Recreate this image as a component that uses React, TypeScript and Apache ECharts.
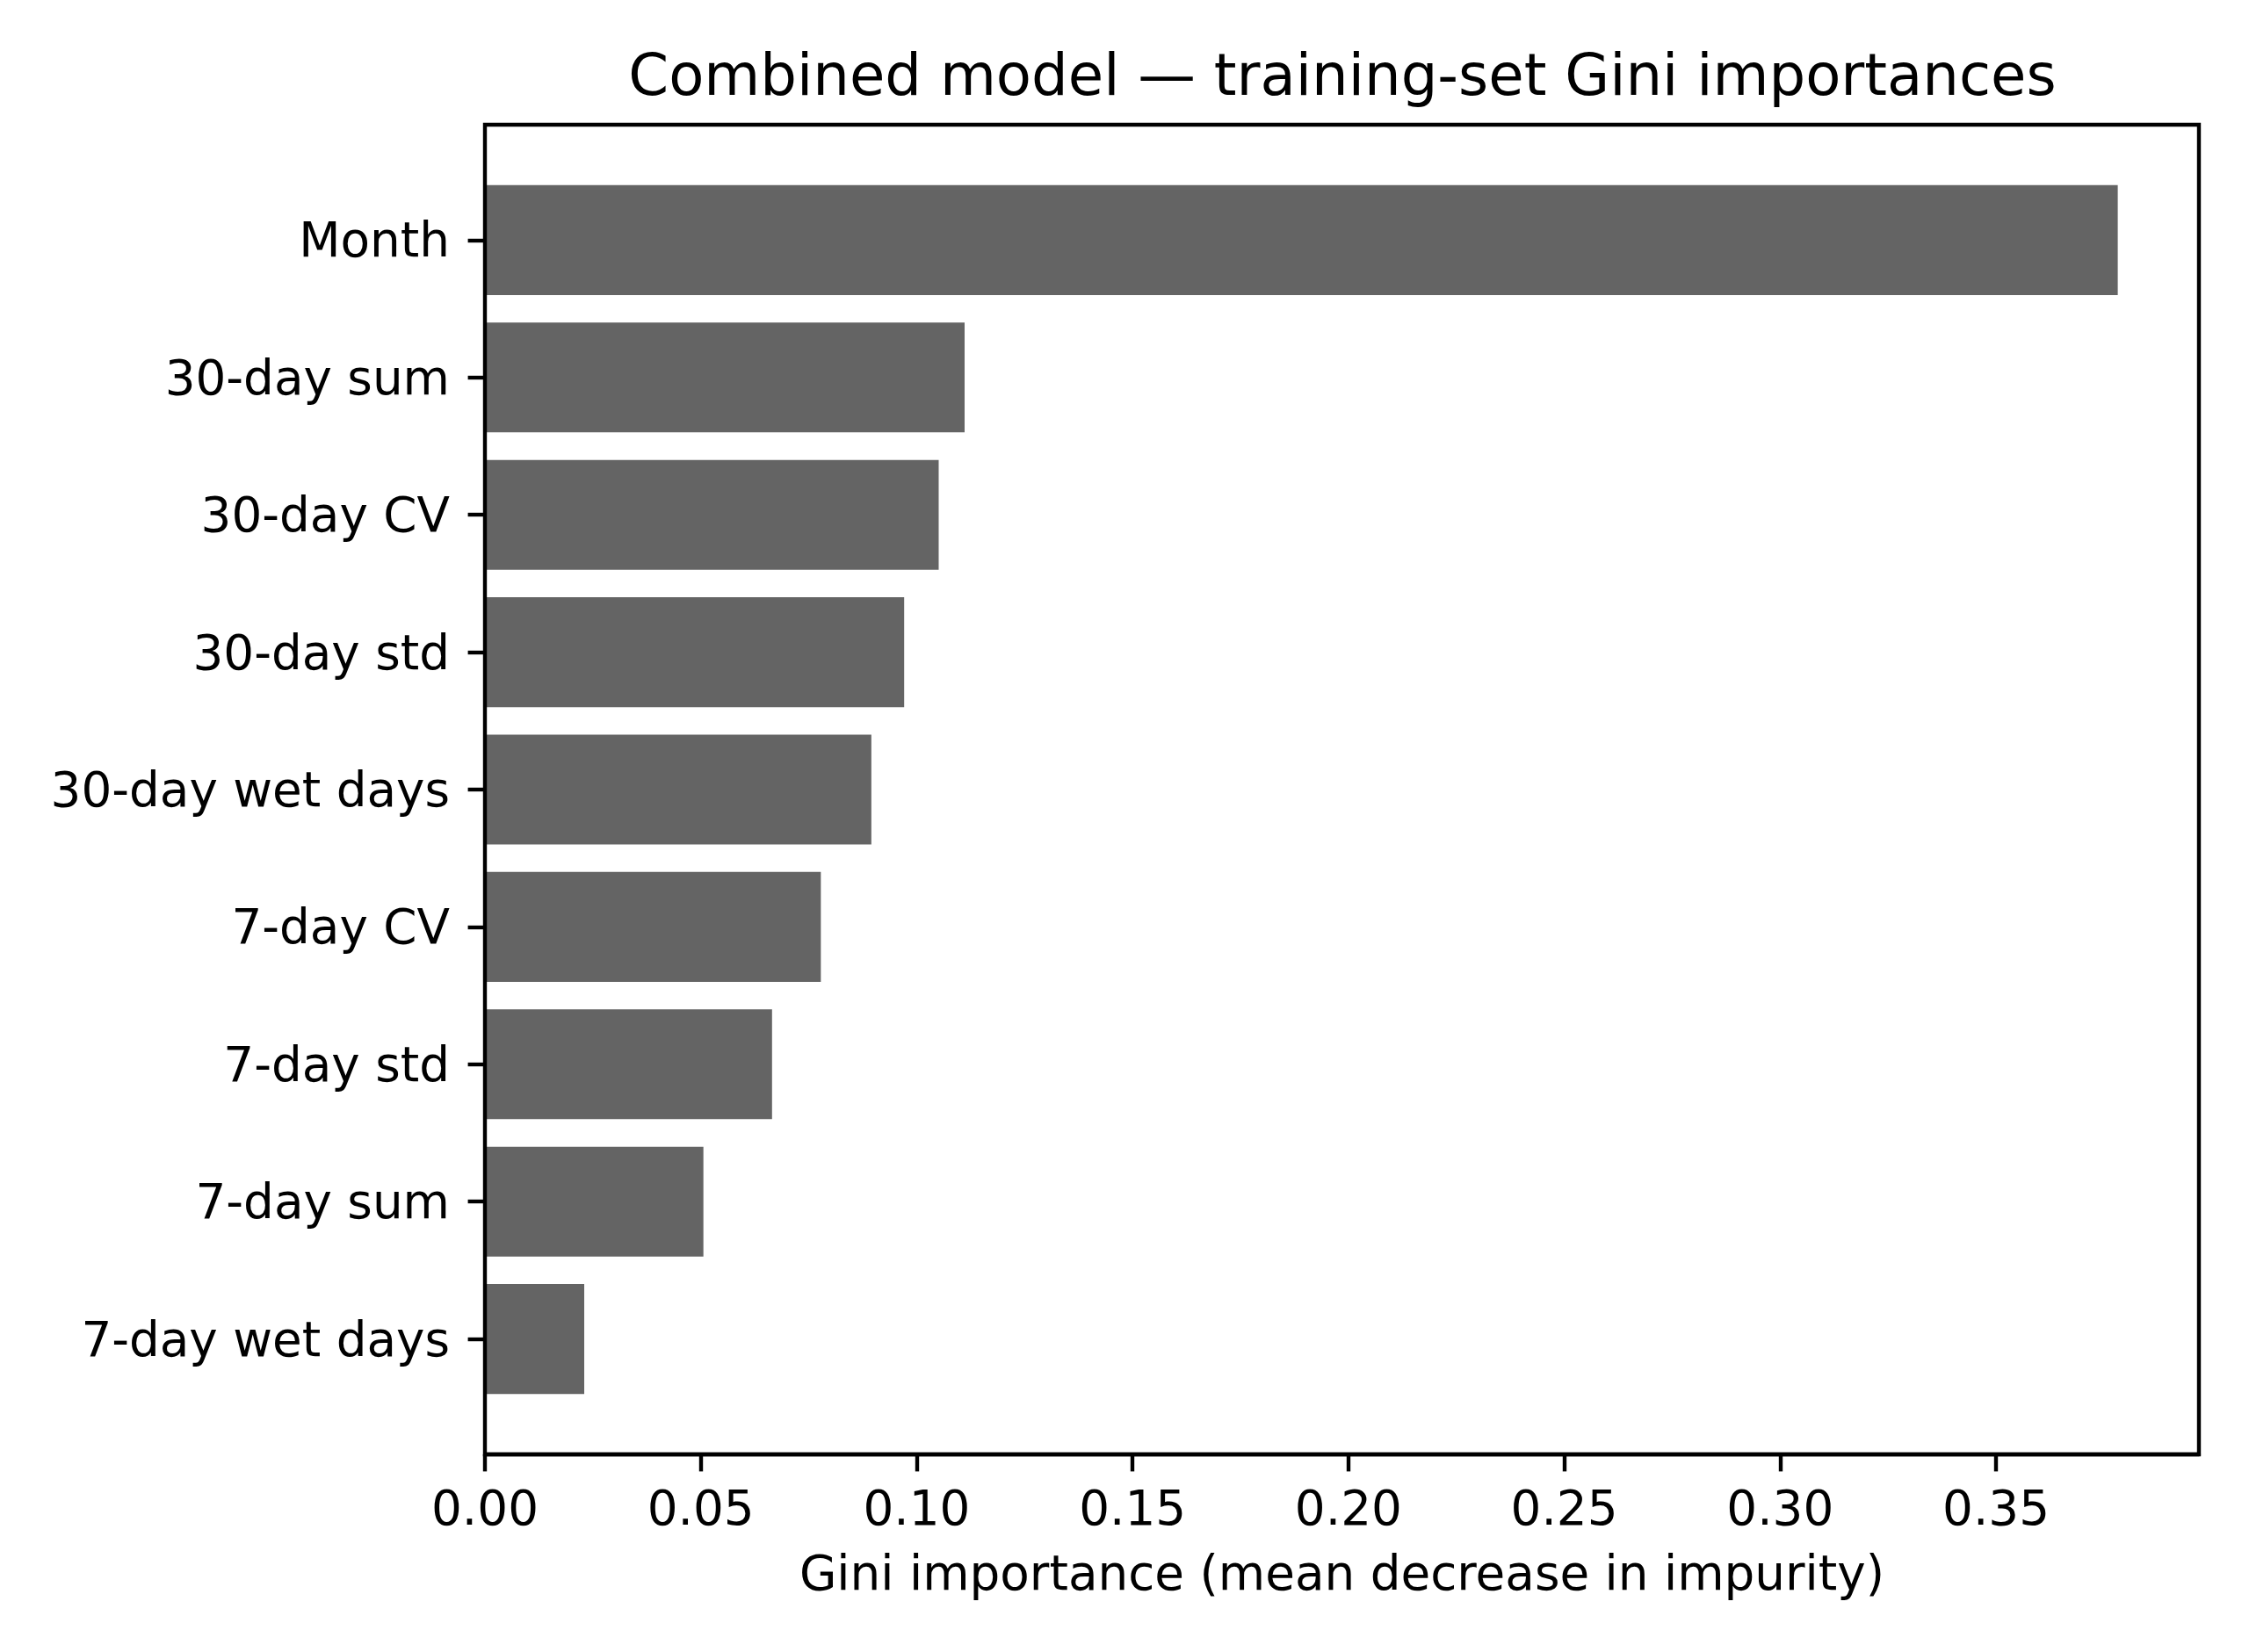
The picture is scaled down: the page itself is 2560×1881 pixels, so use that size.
import {useEffect, useRef} from 'react';
import * as echarts from 'echarts';

const categories = [
    'Month',
    '30-day sum',
    '30-day CV',
    '30-day std',
    '30-day wet days',
    '7-day CV',
    '7-day std',
    '7-day sum',
    '7-day wet days',
];
const importances = [0.3782, 0.1111, 0.1051, 0.0971, 0.0895, 0.0778, 0.0665, 0.0506, 0.0230];
const xTicks = [0, 0.05, 0.1, 0.15, 0.2, 0.25, 0.3, 0.35];
const xMax = 0.397;

const FONT = 'DejaVu Sans';
const LW = 4.4;
const FS = 54.8;

export default function App() {
    const chartRef = useRef<HTMLDivElement | null>(null);

    useEffect(() => {
        const el = chartRef.current;
        if (!el) return;
        const chart = echarts.init(el, null, {renderer: 'svg'});
        chart.setOption({
            animation: false,
            backgroundColor: '#fff',
            textStyle: {fontFamily: FONT, color: '#000'},
            title: {
                text: 'Combined model \u2014 training-set Gini importances',
                left: 1528,
                top: 52,
                padding: 0,
                textAlign: 'center',
                textStyle: {fontFamily: FONT, fontSize: 65.7, fontWeight: 'normal', color: '#000'},
            },
            grid: [
                // full axes frame (matplotlib spines)
                {left: 552, top: 142, width: 1951, height: 1514, show: true, borderColor: '#000', borderWidth: LW, backgroundColor: 'transparent'},
                // inner band area for the categories (matplotlib adds 5% margins)
                {left: 552, top: 195.2, width: 1951, height: 1407.6},
            ],
            xAxis: [
                {
                    type: 'value',
                    gridIndex: 0,
                    min: 0,
                    max: xMax,
                    interval: 0.05,
                    axisLine: {show: true, lineStyle: {color: '#000', width: LW}},
                    axisTick: {show: true, length: 19.4, lineStyle: {color: '#000', width: LW}, customValues: xTicks},
                    axisLabel: {
                        fontFamily: FONT,
                        fontSize: FS,
                        color: '#000',
                        margin: 33,
                        customValues: xTicks,
                        formatter: (v: number) => v.toFixed(2),
                    },
                    splitLine: {show: false},
                    name: 'Gini importance (mean decrease in impurity)',
                    nameLocation: 'middle',
                    nameGap: 107,
                    nameTextStyle: {fontFamily: FONT, fontSize: FS, color: '#000'},
                },
                {type: 'value', gridIndex: 1, min: 0, max: xMax, show: false},
            ],
            yAxis: [
                {type: 'value', gridIndex: 0, show: false},
                {
                    type: 'category',
                    gridIndex: 1,
                    data: categories,
                    inverse: true,
                    axisLine: {show: false},
                    axisTick: {show: true, alignWithLabel: true, length: 19.4, lineStyle: {color: '#000', width: LW}},
                    axisLabel: {fontFamily: FONT, fontSize: FS, color: '#000', margin: 40},
                    splitLine: {show: false},
                },
            ],
            series: [
                {
                    type: 'bar',
                    xAxisIndex: 1,
                    yAxisIndex: 1,
                    data: importances,
                    barWidth: '80%',
                    z: -1,
                    itemStyle: {color: '#646464'},
                },
            ],
        });
        return () => chart.dispose();
    }, []);

    return <div ref={chartRef} style={{position: 'fixed', left: 0, top: 0, width: 2560, height: 1881}}/>;
}
